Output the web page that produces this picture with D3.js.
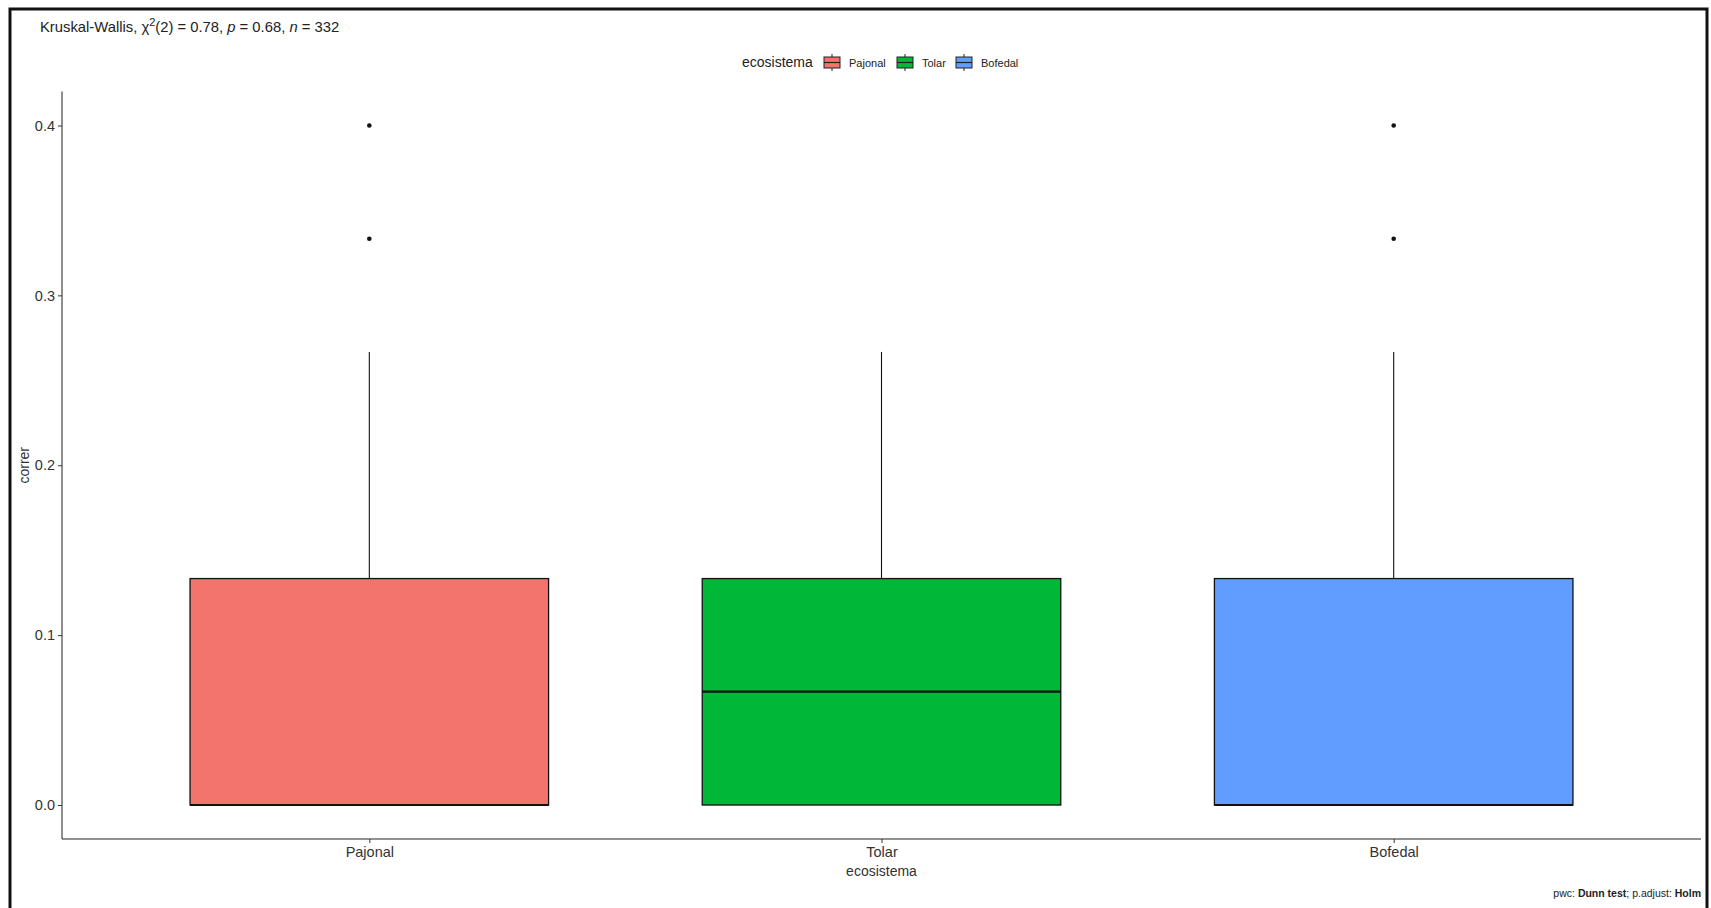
<!DOCTYPE html>
<html>
<head>
<meta charset="utf-8">
<script src="https://cdn.jsdelivr.net/npm/d3@7"></script>
<style>
  html, body { margin: 0; padding: 0; background: #fff; }
  svg { display: block; font-family: "Liberation Sans", Arial, sans-serif; }
</style>
</head>
<body>
<svg id="chart" width="1711" height="908"></svg>
<script>
// Groups and five-number summaries of "correr" per ecosystem
const categories = ["Pajonal", "Tolar", "Bofedal"];
const boxLower   = [0, 0, 0];
const boxQ1      = [0, 0, 0];
const boxMedian  = [0, 0.0667, 0];
const boxQ3      = [0.1333, 0.1333, 0.1333];
const boxUpper   = [0.2667, 0.2667, 0.2667];
const outliers   = [[0.3333, 0.4], [], [0.3333, 0.4]];
const fills      = ["#F3736D", "#00B738", "#619CFF"];
const yTicks     = [0, 0.1, 0.2, 0.3, 0.4];

(function () {
  const svg = d3.select("#chart");
  const W = 1711, H = 908;

  // Outer frame
  svg.append("path")
    .attr("d", `M10,${H + 5} L10,9 L1707,9 L1707,${H + 5}`)
    .attr("fill", "none").attr("stroke", "#111").attr("stroke-width", 3);

  // Panel geometry
  const pLeft = 62, pRight = 1701, pTop = 91.5, pBottom = 839;

  const x = d3.scalePoint().domain(categories).range([pLeft, pRight]).padding(0.6);
  const y = d3.scaleLinear().domain([-0.02, 0.42]).range([pBottom, pTop]);
  const boxW = x.step() * 0.7;

  const data = categories.map((c, i) => ({
    cat: c, lo: boxLower[i], q1: boxQ1[i], med: boxMedian[i], q3: boxQ3[i],
    hi: boxUpper[i], out: outliers[i], fill: fills[i]
  }));

  const g = svg.append("g");

  // Whiskers
  g.selectAll(".whisk-up").data(data).join("line")
    .attr("x1", d => x(d.cat)).attr("x2", d => x(d.cat))
    .attr("y1", d => y(d.q3)).attr("y2", d => y(d.hi))
    .attr("stroke", "#111").attr("stroke-width", 1.1);
  g.selectAll(".whisk-dn").data(data).join("line")
    .attr("x1", d => x(d.cat)).attr("x2", d => x(d.cat))
    .attr("y1", d => y(d.q1)).attr("y2", d => y(d.lo))
    .attr("stroke", "#111").attr("stroke-width", 1.1);

  // Boxes
  g.selectAll(".box").data(data).join("rect")
    .attr("x", d => x(d.cat) - boxW / 2)
    .attr("width", boxW)
    .attr("y", d => y(d.q3))
    .attr("height", d => y(d.q1) - y(d.q3))
    .attr("fill", d => d.fill)
    .attr("stroke", "#111").attr("stroke-width", 1.3);

  // Medians
  g.selectAll(".median").data(data).join("line")
    .attr("x1", d => x(d.cat) - boxW / 2).attr("x2", d => x(d.cat) + boxW / 2)
    .attr("y1", d => y(d.med)).attr("y2", d => y(d.med))
    .attr("stroke", "#111").attr("stroke-width", 2.2);

  // Outliers
  data.forEach(d => {
    g.append("g").selectAll("circle").data(d.out).join("circle")
      .attr("cx", x(d.cat)).attr("cy", v => y(v)).attr("r", 2.3)
      .attr("fill", "#111");
  });

  // Axes
  const yAxis = d3.axisLeft(y).tickValues(yTicks).tickFormat(d3.format(".1f")).tickSize(4).tickPadding(3);
  const yG = svg.append("g").attr("transform", `translate(${pLeft},0)`).call(yAxis);
  yG.select(".domain").attr("d", `M0,${pTop}V${pBottom}`).attr("stroke", "#333").attr("stroke-width", 1.1);
  yG.selectAll(".tick line").attr("stroke", "#333");
  yG.selectAll(".tick text").attr("font-size", 14.5).attr("fill", "#333")
    .attr("font-family", "Liberation Sans, Arial, sans-serif");

  const xAxis = d3.axisBottom(x).tickSize(4).tickPadding(4);
  const xG = svg.append("g").attr("transform", `translate(0,${pBottom})`).call(xAxis);
  xG.select(".domain").attr("d", `M${pLeft},0H${pRight}`).attr("stroke", "#222").attr("stroke-width", 1.2);
  xG.selectAll(".tick line").attr("stroke", "#333");
  xG.selectAll(".tick text").attr("font-size", 14.5).attr("fill", "#333")
    .attr("font-family", "Liberation Sans, Arial, sans-serif");

  // Axis titles
  svg.append("text")
    .attr("x", (pLeft + pRight) / 2).attr("y", 876)
    .attr("text-anchor", "middle").attr("font-size", 14).attr("fill", "#333")
    .text("ecosistema");
  svg.append("text")
    .attr("transform", `translate(29,${(pTop + pBottom) / 2}) rotate(-90)`)
    .attr("text-anchor", "middle").attr("font-size", 14).attr("fill", "#333")
    .text("correr");

  // Test summary
  const title = svg.append("text").attr("x", 40).attr("y", 32)
    .attr("font-size", 14.8).attr("fill", "#222");
  title.append("tspan").text("Kruskal-Wallis, χ");
  title.append("tspan").attr("dy", -6.5).attr("font-size", 11).text("2");
  title.append("tspan").attr("dy", 6.5).text("(2) = 0.78, ");
  title.append("tspan").attr("font-style", "italic").text("p");
  title.append("tspan").text(" = 0.68, ");
  title.append("tspan").attr("font-style", "italic").text("n");
  title.append("tspan").text(" = 332");

  // Legend
  const legend = svg.append("g");
  legend.append("text").attr("x", 742).attr("y", 67)
    .attr("font-size", 14).attr("fill", "#222").text("ecosistema");
  const keyX = [824, 897, 956];
  data.forEach((d, i) => {
    const kx = keyX[i], kc = kx + 8;
    legend.append("line").attr("x1", kc).attr("x2", kc).attr("y1", 54).attr("y2", 71)
      .attr("stroke", "#222").attr("stroke-width", 1);
    legend.append("rect").attr("x", kx).attr("y", 57).attr("width", 16).attr("height", 11)
      .attr("fill", d.fill).attr("stroke", "#222").attr("stroke-width", 1);
    legend.append("line").attr("x1", kx).attr("x2", kx + 16).attr("y1", 62.5).attr("y2", 62.5)
      .attr("stroke", "#222").attr("stroke-width", 1.2);
    legend.append("text").attr("x", kx + 25).attr("y", 66.5)
      .attr("font-size", 11).attr("fill", "#222").text(d.cat);
  });

  // Caption
  const cap = svg.append("text").attr("x", 1701).attr("y", 897)
    .attr("text-anchor", "end").attr("font-size", 10.5).attr("fill", "#222");
  cap.append("tspan").text("pwc: ");
  cap.append("tspan").attr("font-weight", "bold").text("Dunn test");
  cap.append("tspan").text("; p.adjust: ");
  cap.append("tspan").attr("font-weight", "bold").text("Holm");
})();
</script>
</body>
</html>
